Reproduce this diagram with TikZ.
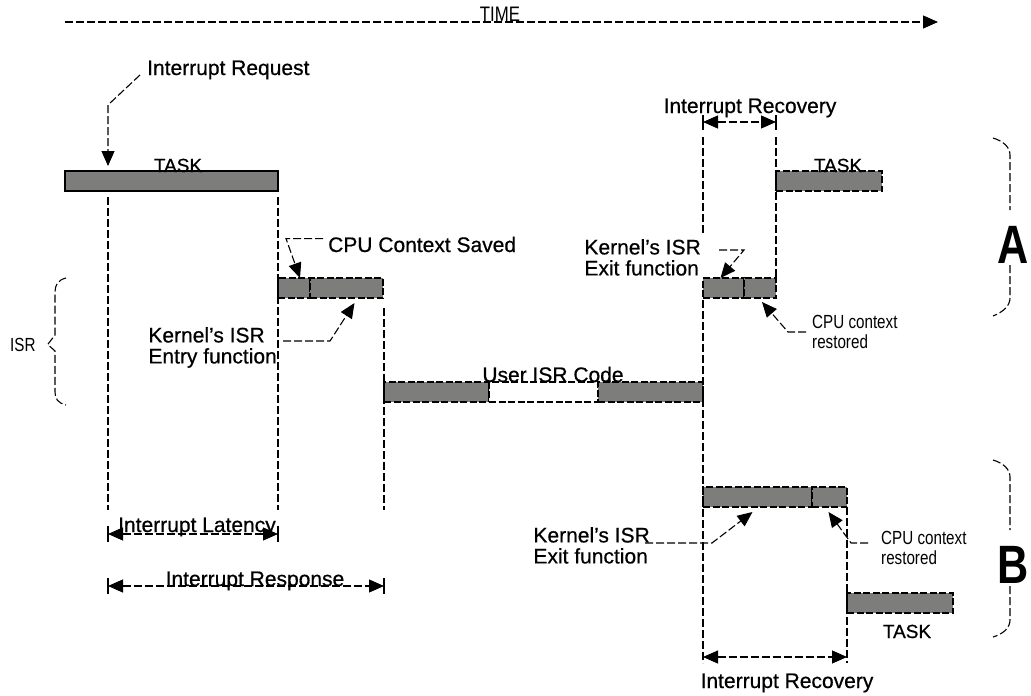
\documentclass[tikz,border=0pt]{standalone}
\usepackage{fontspec}
\setmainfont{Liberation Sans}[FakeBold=0.6]
\newfontfamily\narrowfont[FakeStretch=0.8]{Liberation Sans}
\usepackage{tikz}
\usetikzlibrary{arrows.meta,positioning}
\definecolor{bargray}{RGB}{125,125,123}

\begin{document}
\begin{tikzpicture}[
    x=1pt, y=-1pt,
    node distance=0pt,
    bar/.style={rectangle, draw, line width=1.2pt, fill=bargray, minimum height=20pt, inner sep=0pt, outer sep=0pt, anchor=north west},
    dbar/.style={bar, dash pattern=on 7pt off 2.5pt},
    guide/.style={line width=1.1pt, dash pattern=on 8pt off 3pt},
    lead/.style={guide, -{Triangle[length=15pt, width=13pt]}},
    span/.style={guide, {Triangle[length=15pt, width=13pt]}-{Triangle[length=15pt, width=13pt]}},
    tick/.style={line width=1.1pt},
    txt/.style={inner sep=0pt, font=\fontsize{21}{21}\selectfont, align=left},
    ntxt/.style={inner sep=0pt, font=\narrowfont\fontsize{19}{20}\selectfont, align=left},
    big/.style={inner sep=0pt, font=\narrowfont\bfseries\fontsize{54}{54}\selectfont}
]
    \useasboundingbox (0,0) rectangle (1031,696);

    % time axis
    \coordinate (t0) at (65,22);
    \coordinate (t1) at (938,22);
    \draw[lead] (t0) -- (t1);
    \node[ntxt, font=\narrowfont\fontsize{21}{21}\selectfont, anchor=base] (timetxt) at (500,21) {TIME};

    % bars
    \node[bar, minimum width=213pt] (task) at (65,171) {};
    \node[dbar, minimum width=32pt] (save) at (278,278) {};
    \node[dbar, minimum width=73pt, right=of save] (entry) {};
    \node[dbar, minimum width=105pt] (usr1) at (384,382) {};
    \node[dbar, minimum width=109pt, fill=white, right=of usr1] (usr2) {};
    \node[dbar, minimum width=105pt, right=of usr2] (usr3) {};
    \node[dbar, minimum width=41pt] (exitA) at (703,278) {};
    \node[dbar, minimum width=32pt, right=of exitA] (restA) {};
    \node[dbar, minimum width=106pt] (taskA) at (776,171) {};
    \node[dbar, minimum width=109pt] (exitB) at (703,487) {};
    \node[dbar, minimum width=35pt, right=of exitB] (restB) {};
    \node[dbar, minimum width=106pt] (taskB) at (847,593) {};

    % guides
    \draw[guide] (108,197) -- (108,510);
    \draw[guide] (278,197) -- (278,510);
    \draw[guide] (384,308) -- (384,510);
    \draw[guide] (703,137) -- (703,233);
    \draw[guide] (703,300) -- (703,663);
    \draw[guide] (776,137) -- (776,278);
    \draw[guide] (847,507) -- (847,663);

    % labels
    \node[txt, anchor=base west] (irqtxt) at (147,75) {Interrupt Request};
    \node[txt, font=\fontsize{19}{20}\selectfont, anchor=base] (tasktxt) at (178,172) {TASK};
    \node[txt, anchor=base west] (savetxt) at (328,252) {CPU Context Saved};
    \node[txt, anchor=north east] (entrytxt) at (277,327) {Kernel's ISR\\Entry function};
    \node[txt, anchor=base] (usrtxt) at (553,382) {User ISR Code};
    \node[txt, anchor=north east] (exitAtxt) at (701,239) {Kernel's ISR\\Exit function};
    \node[ntxt, anchor=north west] (restAtxt) at (812,315) {CPU context\\restored};
    \node[txt, font=\fontsize{19}{20}\selectfont, anchor=base] (taskAtxt) at (838,172) {TASK};
    \node[txt, anchor=north east] (exitBtxt) at (650,527) {Kernel's ISR\\Exit function};
    \node[ntxt, anchor=north west] (restBtxt) at (881,531) {CPU context\\restored};
    \node[txt, font=\fontsize{19}{20}\selectfont, anchor=base] (taskBtxt) at (907,638) {TASK};

    % leaders
    \draw[lead] ([xshift=-7pt]irqtxt.base west) -- ++(-32,30) -- ([xshift=43pt, yshift=5pt]task.north west);
    \draw[lead] ([xshift=-5pt, yshift=-2pt]savetxt.north west) -- ++(-37,0) -- ([xshift=6pt]save.north);
    \draw[lead] ([xshift=6pt, yshift=-14pt]entrytxt.north east) -- ++(47,0) -- ([xshift=8pt, yshift=-5pt]entry.south);
    \draw[lead] ([xshift=18pt, yshift=-11pt]exitAtxt.north east) -- ++(25,0) -- ([xshift=-3pt]exitA.north);
    \draw[lead] ([xshift=-6pt, yshift=-17pt]restAtxt.north west) -- ++(-18,0) -- ([xshift=2pt, yshift=-4pt]restA.south);
    \draw[lead] ([xshift=-5pt, yshift=-16pt]exitBtxt.north east) -- ++(67,0) -- ([xshift=-5pt, yshift=-5pt]exitB.south);
    \draw[lead] ([xshift=-13pt, yshift=-12pt]restBtxt.north west) -- ++(-17,0) -- ([xshift=-1pt, yshift=-5pt]restB.south);

    % spans
    \coordinate (recAl) at (703,122);
    \coordinate (recAr) at (776,122);
    \draw[span] (recAl) -- (recAr);
    \draw[tick] (703,115) -- (703,130);
    \draw[tick] (776,115) -- (776,130);
    \node[txt, anchor=base] (recAtxt) at (750,113) {Interrupt Recovery};

    \coordinate (latl) at (108,534);
    \coordinate (latr) at (278,534);
    \draw[span] (latl) -- (latr);
    \draw[tick] (108,526) -- (108,542);
    \draw[tick] (278,526) -- (278,542);
    \node[txt, anchor=base] (lattxt) at (197,532) {Interrupt Latency};

    \coordinate (resl) at (108,586);
    \coordinate (resr) at (384,586);
    \draw[span] (resl) -- (resr);
    \draw[tick] (108,578) -- (108,594);
    \draw[tick] (384,578) -- (384,594);
    \node[txt, anchor=base] (restxt) at (255,586) {Interrupt Response};

    \coordinate (recBl) at (703,657);
    \coordinate (recBr) at (847,657);
    \draw[span] (recBl) -- (recBr);
    \node[txt, anchor=base] (recBtxt) at (787,688) {Interrupt Recovery};

    % braces
    \node[ntxt, font=\narrowfont\fontsize{19}{19}\selectfont, anchor=base west] (isrtxt) at (10,351) {ISR};
    \draw[guide] (66,278) .. controls (58,280) and (55,285) .. (55,292) -- (55,335) -- ([xshift=12pt]isrtxt.east) -- (55,351) -- (55,392) .. controls (55,399) and (58,403) .. (66,405);

    \node[big, anchor=base] (Atxt) at (1013,263) {A};
    \draw[guide] (993,138) .. controls (1003,141) and (1010,147) .. (1010,155) -- (1010,210);
    \draw[guide] (1010,265) -- (1010,298) .. controls (1010,306) and (1003,312) .. (993,316);

    \node[big, anchor=base] (Btxt) at (1013,583) {B};
    \draw[guide] (993,460) .. controls (1003,463) and (1010,469) .. (1010,477) -- (1010,530);
    \draw[guide] (1010,586) -- (1010,620) .. controls (1010,628) and (1003,634) .. (993,637);
\end{tikzpicture}
\end{document}
